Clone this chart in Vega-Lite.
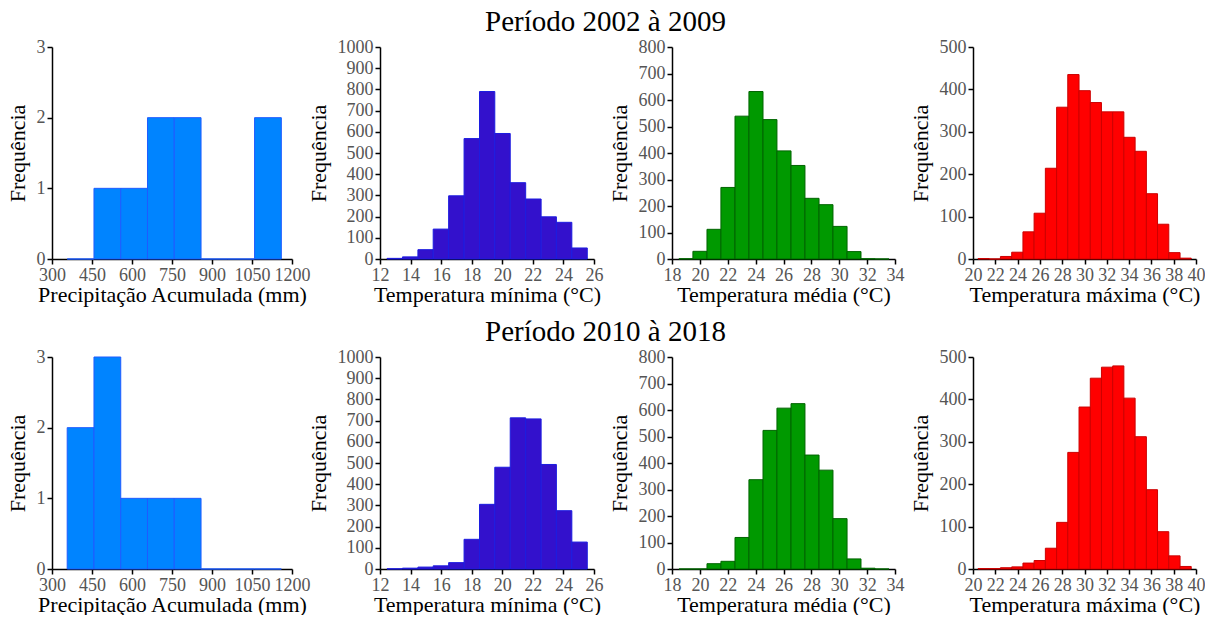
{
  "$schema": "https://vega.github.io/schema/vega-lite/v6.json",
  "background": "white",
  "padding": {"left": 6, "top": 8, "right": 0, "bottom": 0},
  "bounds": "flush",
  "columns": 4,
  "spacing": {"row": 98, "column": 78},
  "datasets": {
    "h": [
      {"p":1,"v":"pr","a":357,"b":457.4,"n":0},{"p":1,"v":"pr","a":457.4,"b":557.8,"n":1},{"p":1,"v":"pr","a":557.8,"b":658.1,"n":1},{"p":1,"v":"pr","a":658.1,"b":758.5,"n":2},{"p":1,"v":"pr","a":758.5,"b":858.9,"n":2},{"p":1,"v":"pr","a":858.9,"b":959.3,"n":0},{"p":1,"v":"pr","a":959.3,"b":1059.6,"n":0},{"p":1,"v":"pr","a":1059.6,"b":1160,"n":2},
      {"p":2,"v":"pr","a":357,"b":457.4,"n":2},{"p":2,"v":"pr","a":457.4,"b":557.8,"n":3},{"p":2,"v":"pr","a":557.8,"b":658.1,"n":1},{"p":2,"v":"pr","a":658.1,"b":758.5,"n":1},{"p":2,"v":"pr","a":758.5,"b":858.9,"n":1},{"p":2,"v":"pr","a":858.9,"b":959.3,"n":0},{"p":2,"v":"pr","a":959.3,"b":1059.6,"n":0},{"p":2,"v":"pr","a":1059.6,"b":1160,"n":0},

      {"p":1,"v":"tmin","a":12.46,"b":13.47,"n":3},{"p":1,"v":"tmin","a":13.47,"b":14.48,"n":10},{"p":1,"v":"tmin","a":14.48,"b":15.48,"n":44},{"p":1,"v":"tmin","a":15.48,"b":16.49,"n":141},{"p":1,"v":"tmin","a":16.49,"b":17.5,"n":298},{"p":1,"v":"tmin","a":17.5,"b":18.51,"n":568},{"p":1,"v":"tmin","a":18.51,"b":19.51,"n":790},{"p":1,"v":"tmin","a":19.51,"b":20.52,"n":592},{"p":1,"v":"tmin","a":20.52,"b":21.53,"n":360},{"p":1,"v":"tmin","a":21.53,"b":22.54,"n":283},{"p":1,"v":"tmin","a":22.54,"b":23.54,"n":199},{"p":1,"v":"tmin","a":23.54,"b":24.55,"n":173},{"p":1,"v":"tmin","a":24.55,"b":25.56,"n":52},
      {"p":2,"v":"tmin","a":12.46,"b":13.47,"n":1},{"p":2,"v":"tmin","a":13.47,"b":14.48,"n":4},{"p":2,"v":"tmin","a":14.48,"b":15.48,"n":9},{"p":2,"v":"tmin","a":15.48,"b":16.49,"n":15},{"p":2,"v":"tmin","a":16.49,"b":17.5,"n":30},{"p":2,"v":"tmin","a":17.5,"b":18.51,"n":140},{"p":2,"v":"tmin","a":18.51,"b":19.51,"n":305},{"p":2,"v":"tmin","a":19.51,"b":20.52,"n":480},{"p":2,"v":"tmin","a":20.52,"b":21.53,"n":713},{"p":2,"v":"tmin","a":21.53,"b":22.54,"n":708},{"p":2,"v":"tmin","a":22.54,"b":23.54,"n":493},{"p":2,"v":"tmin","a":23.54,"b":24.55,"n":275},{"p":2,"v":"tmin","a":24.55,"b":25.56,"n":127},

      {"p":1,"v":"tmed","a":18.5,"b":19.5,"n":1},{"p":1,"v":"tmed","a":19.5,"b":20.51,"n":29},{"p":1,"v":"tmed","a":20.51,"b":21.51,"n":112},{"p":1,"v":"tmed","a":21.51,"b":22.52,"n":270},{"p":1,"v":"tmed","a":22.52,"b":23.52,"n":539},{"p":1,"v":"tmed","a":23.52,"b":24.53,"n":632},{"p":1,"v":"tmed","a":24.53,"b":25.53,"n":526},{"p":1,"v":"tmed","a":25.53,"b":26.54,"n":408},{"p":1,"v":"tmed","a":26.54,"b":27.54,"n":353},{"p":1,"v":"tmed","a":27.54,"b":28.55,"n":229},{"p":1,"v":"tmed","a":28.55,"b":29.55,"n":205},{"p":1,"v":"tmed","a":29.55,"b":30.56,"n":123},{"p":1,"v":"tmed","a":30.56,"b":31.56,"n":28},{"p":1,"v":"tmed","a":31.56,"b":32.57,"n":1},{"p":1,"v":"tmed","a":32.57,"b":33.57,"n":0},
      {"p":2,"v":"tmed","a":18.5,"b":19.5,"n":0},{"p":2,"v":"tmed","a":19.5,"b":20.51,"n":0},{"p":2,"v":"tmed","a":20.51,"b":21.51,"n":20},{"p":2,"v":"tmed","a":21.51,"b":22.52,"n":29},{"p":2,"v":"tmed","a":22.52,"b":23.52,"n":119},{"p":2,"v":"tmed","a":23.52,"b":24.53,"n":337},{"p":2,"v":"tmed","a":24.53,"b":25.53,"n":523},{"p":2,"v":"tmed","a":25.53,"b":26.54,"n":607},{"p":2,"v":"tmed","a":26.54,"b":27.54,"n":624},{"p":2,"v":"tmed","a":27.54,"b":28.55,"n":430},{"p":2,"v":"tmed","a":28.55,"b":29.55,"n":373},{"p":2,"v":"tmed","a":29.55,"b":30.56,"n":190},{"p":2,"v":"tmed","a":30.56,"b":31.56,"n":38},{"p":2,"v":"tmed","a":31.56,"b":32.57,"n":3},{"p":2,"v":"tmed","a":32.57,"b":33.57,"n":0},

      {"p":1,"v":"tmax","a":20.45,"b":21.46,"n":1},{"p":1,"v":"tmax","a":21.46,"b":22.46,"n":0},{"p":1,"v":"tmax","a":22.46,"b":23.47,"n":6},{"p":1,"v":"tmax","a":23.47,"b":24.48,"n":16},{"p":1,"v":"tmax","a":24.48,"b":25.48,"n":64},{"p":1,"v":"tmax","a":25.48,"b":26.49,"n":108},{"p":1,"v":"tmax","a":26.49,"b":27.5,"n":214},{"p":1,"v":"tmax","a":27.5,"b":28.5,"n":358},{"p":1,"v":"tmax","a":28.5,"b":29.51,"n":435},{"p":1,"v":"tmax","a":29.51,"b":30.52,"n":397},{"p":1,"v":"tmax","a":30.52,"b":31.52,"n":369},{"p":1,"v":"tmax","a":31.52,"b":32.53,"n":347},{"p":1,"v":"tmax","a":32.53,"b":33.53,"n":347},{"p":1,"v":"tmax","a":33.53,"b":34.54,"n":287},{"p":1,"v":"tmax","a":34.54,"b":35.55,"n":254},{"p":1,"v":"tmax","a":35.55,"b":36.55,"n":154},{"p":1,"v":"tmax","a":36.55,"b":37.56,"n":82},{"p":1,"v":"tmax","a":37.56,"b":38.57,"n":15},{"p":1,"v":"tmax","a":38.57,"b":39.57,"n":2},
      {"p":2,"v":"tmax","a":20.45,"b":21.46,"n":1},{"p":2,"v":"tmax","a":21.46,"b":22.46,"n":1},{"p":2,"v":"tmax","a":22.46,"b":23.47,"n":3},{"p":2,"v":"tmax","a":23.47,"b":24.48,"n":5},{"p":2,"v":"tmax","a":24.48,"b":25.48,"n":14},{"p":2,"v":"tmax","a":25.48,"b":26.49,"n":20},{"p":2,"v":"tmax","a":26.49,"b":27.5,"n":49},{"p":2,"v":"tmax","a":27.5,"b":28.5,"n":110},{"p":2,"v":"tmax","a":28.5,"b":29.51,"n":275},{"p":2,"v":"tmax","a":29.51,"b":30.52,"n":382},{"p":2,"v":"tmax","a":30.52,"b":31.52,"n":450},{"p":2,"v":"tmax","a":31.52,"b":32.53,"n":476},{"p":2,"v":"tmax","a":32.53,"b":33.53,"n":479},{"p":2,"v":"tmax","a":33.53,"b":34.54,"n":403},{"p":2,"v":"tmax","a":34.54,"b":35.55,"n":312},{"p":2,"v":"tmax","a":35.55,"b":36.55,"n":187},{"p":2,"v":"tmax","a":36.55,"b":37.56,"n":88},{"p":2,"v":"tmax","a":37.56,"b":38.57,"n":31},{"p":2,"v":"tmax","a":38.57,"b":39.57,"n":6}
    ]
  },
  "concat": [
    {
      "width": 250, "height": 212,
      "data": {"name": "h"},
      "transform": [{"filter": "datum.p == 1 && datum.v == 'pr'"}],
      "mark": {"type": "rect", "fill": "#0084ff", "stroke": "#1f5cff", "strokeWidth": 1},
      "encoding": {
        "x": {"field": "a", "type": "quantitative", "scale": {"domain": [300, 1200], "nice": false, "zero": false, "rangeMax": 240}, "axis": {"title": "Precipitação Acumulada (mm)", "values": [300, 450, 600, 750, 900, 1050, 1200]}},
        "x2": {"field": "b"},
        "y": {"field": "n", "type": "quantitative", "scale": {"domain": [0, 3], "nice": false}, "axis": {"title": "Frequência", "values": [0, 1, 2, 3]}},
        "y2": {"datum": 0}
      }
    },
    {
      "width": 214, "height": 212,
      "data": {"name": "h"},
      "transform": [{"filter": "datum.p == 1 && datum.v == 'tmin'"}],
      "mark": {"type": "rect", "fill": "#3311cc", "stroke": "#1c1ce0", "strokeWidth": 1},
      "encoding": {
        "x": {"field": "a", "type": "quantitative", "scale": {"domain": [12, 26], "nice": false, "zero": false}, "axis": {"title": "Temperatura mínima (°C)", "values": [12, 14, 16, 18, 20, 22, 24, 26]}},
        "x2": {"field": "b"},
        "y": {"field": "n", "type": "quantitative", "scale": {"domain": [0, 1000], "nice": false}, "axis": {"title": "Frequência", "values": [0, 100, 200, 300, 400, 500, 600, 700, 800, 900, 1000]}},
        "y2": {"datum": 0}
      }
    },
    {
      "width": 223, "height": 212,
      "title": {"text": "Período 2002 à 2009", "dx": -178},
      "data": {"name": "h"},
      "transform": [{"filter": "datum.p == 1 && datum.v == 'tmed'"}],
      "mark": {"type": "rect", "fill": "#009900", "stroke": "#006400", "strokeWidth": 1},
      "encoding": {
        "x": {"field": "a", "type": "quantitative", "scale": {"domain": [18, 34], "nice": false, "zero": false}, "axis": {"title": "Temperatura média (°C)", "values": [18, 20, 22, 24, 26, 28, 30, 32, 34]}},
        "x2": {"field": "b"},
        "y": {"field": "n", "type": "quantitative", "scale": {"domain": [0, 800], "nice": false}, "axis": {"title": "Frequência", "values": [0, 100, 200, 300, 400, 500, 600, 700, 800]}},
        "y2": {"datum": 0}
      }
    },
    {
      "width": 223, "height": 212,
      "data": {"name": "h"},
      "transform": [{"filter": "datum.p == 1 && datum.v == 'tmax'"}],
      "mark": {"type": "rect", "fill": "#ff0000", "stroke": "#cc0000", "strokeWidth": 1},
      "encoding": {
        "x": {"field": "a", "type": "quantitative", "scale": {"domain": [20, 40], "nice": false, "zero": false}, "axis": {"title": "Temperatura máxima (°C)", "values": [20, 22, 24, 26, 28, 30, 32, 34, 36, 38, 40]}},
        "x2": {"field": "b"},
        "y": {"field": "n", "type": "quantitative", "scale": {"domain": [0, 500], "nice": false}, "axis": {"title": "Frequência", "values": [0, 100, 200, 300, 400, 500]}},
        "y2": {"datum": 0}
      }
    },
    {
      "width": 250, "height": 212,
      "data": {"name": "h"},
      "transform": [{"filter": "datum.p == 2 && datum.v == 'pr'"}],
      "mark": {"type": "rect", "fill": "#0084ff", "stroke": "#1f5cff", "strokeWidth": 1},
      "encoding": {
        "x": {"field": "a", "type": "quantitative", "scale": {"domain": [300, 1200], "nice": false, "zero": false, "rangeMax": 240}, "axis": {"title": "Precipitação Acumulada (mm)", "values": [300, 450, 600, 750, 900, 1050, 1200]}},
        "x2": {"field": "b"},
        "y": {"field": "n", "type": "quantitative", "scale": {"domain": [0, 3], "nice": false}, "axis": {"title": "Frequência", "values": [0, 1, 2, 3]}},
        "y2": {"datum": 0}
      }
    },
    {
      "width": 214, "height": 212,
      "data": {"name": "h"},
      "transform": [{"filter": "datum.p == 2 && datum.v == 'tmin'"}],
      "mark": {"type": "rect", "fill": "#3311cc", "stroke": "#1c1ce0", "strokeWidth": 1},
      "encoding": {
        "x": {"field": "a", "type": "quantitative", "scale": {"domain": [12, 26], "nice": false, "zero": false}, "axis": {"title": "Temperatura mínima (°C)", "values": [12, 14, 16, 18, 20, 22, 24, 26]}},
        "x2": {"field": "b"},
        "y": {"field": "n", "type": "quantitative", "scale": {"domain": [0, 1000], "nice": false}, "axis": {"title": "Frequência", "values": [0, 100, 200, 300, 400, 500, 600, 700, 800, 900, 1000]}},
        "y2": {"datum": 0}
      }
    },
    {
      "width": 223, "height": 212,
      "title": {"text": "Período 2010 à 2018", "dx": -178},
      "data": {"name": "h"},
      "transform": [{"filter": "datum.p == 2 && datum.v == 'tmed'"}],
      "mark": {"type": "rect", "fill": "#009900", "stroke": "#006400", "strokeWidth": 1},
      "encoding": {
        "x": {"field": "a", "type": "quantitative", "scale": {"domain": [18, 34], "nice": false, "zero": false}, "axis": {"title": "Temperatura média (°C)", "values": [18, 20, 22, 24, 26, 28, 30, 32, 34]}},
        "x2": {"field": "b"},
        "y": {"field": "n", "type": "quantitative", "scale": {"domain": [0, 800], "nice": false}, "axis": {"title": "Frequência", "values": [0, 100, 200, 300, 400, 500, 600, 700, 800]}},
        "y2": {"datum": 0}
      }
    },
    {
      "width": 223, "height": 212,
      "data": {"name": "h"},
      "transform": [{"filter": "datum.p == 2 && datum.v == 'tmax'"}],
      "mark": {"type": "rect", "fill": "#ff0000", "stroke": "#cc0000", "strokeWidth": 1},
      "encoding": {
        "x": {"field": "a", "type": "quantitative", "scale": {"domain": [20, 40], "nice": false, "zero": false}, "axis": {"title": "Temperatura máxima (°C)", "values": [20, 22, 24, 26, 28, 30, 32, 34, 36, 38, 40]}},
        "x2": {"field": "b"},
        "y": {"field": "n", "type": "quantitative", "scale": {"domain": [0, 500], "nice": false}, "axis": {"title": "Frequência", "values": [0, 100, 200, 300, 400, 500]}},
        "y2": {"datum": 0}
      }
    }
  ],
  "config": {
    "view": {"stroke": null},
    "font": "Liberation Serif",
    "axis": {
      "labelFont": "Liberation Serif", "labelFontSize": 18, "labelColor": "#555555",
      "titleFont": "Liberation Serif", "titleFontSize": 22, "titleFontWeight": "normal", "titleColor": "#000000",
      "domainColor": "#000000", "domainWidth": 1.5, "tickColor": "#000000", "tickWidth": 1.5, "tickSize": 5,
      "labelPadding": 2, "grid": false, "labelFlush": false, "labelOverlap": false, "format": "d"
    },
    "axisX": {"titlePadding": 0},
    "axisY": {"titlePadding": 7},
    "title": {"font": "Liberation Serif", "fontSize": 29, "fontWeight": "normal", "color": "#000000", "anchor": "middle", "frame": "group", "baseline": "alphabetic", "offset": 1}
  }
}
